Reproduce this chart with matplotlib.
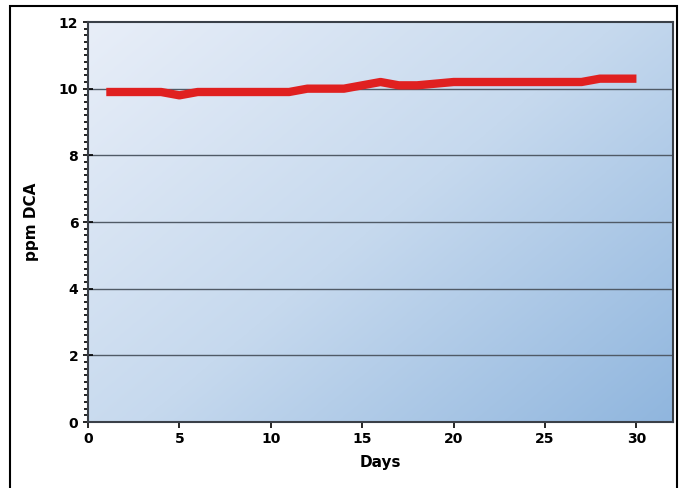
import numpy as np
import matplotlib
matplotlib.use("Agg")
import matplotlib.pyplot as plt
from matplotlib.patches import Rectangle
from matplotlib.colors import LinearSegmentedColormap
from matplotlib.ticker import MultipleLocator

days = list(range(1, 31))
ppm_dca = [9.9, 9.9, 9.9, 9.9, 9.8, 9.9, 9.9, 9.9, 9.9, 9.9,
           9.9, 10.0, 10.0, 10.0, 10.1, 10.2, 10.1, 10.1, 10.15, 10.2,
           10.2, 10.2, 10.2, 10.2, 10.2, 10.2, 10.2, 10.3, 10.3, 10.3]
x_ticks = [0, 5, 10, 15, 20, 25, 30]
y_ticks = [0, 2, 4, 6, 8, 10, 12]

fig = plt.figure(figsize=(6.84, 4.88), dpi=100)
fig.patch.set_facecolor("white")
ax = fig.add_axes([88/684, 1-422/488, (673-88)/684, (422-22)/488])

# gradient background: light upper-left -> blue lower-right
n = 200
xx, yy = np.meshgrid(np.linspace(0, 1, n), np.linspace(0, 1, n))
t = (xx * 0.55 + yy * 0.45)
cmap = LinearSegmentedColormap.from_list("bg", ["#e8eef8", "#c6d9ee", "#90b6de"])
ax.imshow(t, cmap=cmap, extent=[0, 1, 0, 1], transform=ax.transAxes,
          aspect="auto", origin="upper", zorder=0, interpolation="bicubic")

for yv in y_ticks[1:-1]:
    ax.axhline(yv, color="#505a66", lw=1.0, zorder=1)

ax.plot(days, ppm_dca, color="#e02020", lw=6, solid_capstyle="butt",
        solid_joinstyle="round", zorder=3)

ax.set_xlim(0, 32)
ax.set_ylim(0, 12)
ax.set_xticks(x_ticks)
ax.set_yticks(y_ticks)
ax.yaxis.set_minor_locator(MultipleLocator(0.2))
ax.tick_params(axis="y", which="major", direction="inout", length=7, width=1.2, labelsize=10)
ax.tick_params(axis="y", which="minor", direction="out", length=3, width=1.2)
ax.tick_params(axis="x", which="major", direction="out", length=4, width=1.2, labelsize=10)
for lab in ax.get_xticklabels() + ax.get_yticklabels():
    lab.set_fontweight("bold")
for s in ax.spines.values():
    s.set_color("#3a4048")
    s.set_linewidth(1.5)

ax.set_xlabel("Days", fontsize=11, fontweight="bold", labelpad=6)
ax.set_ylabel("ppm DCA", fontsize=11, fontweight="bold", labelpad=14)

fig.add_artist(Rectangle((10/684, -0.05), (677-10)/684, 1.05 - 6/488,
                         transform=fig.transFigure, fill=False,
                         edgecolor="black", lw=1.5))

fig.savefig("out.png", dpi=100)
